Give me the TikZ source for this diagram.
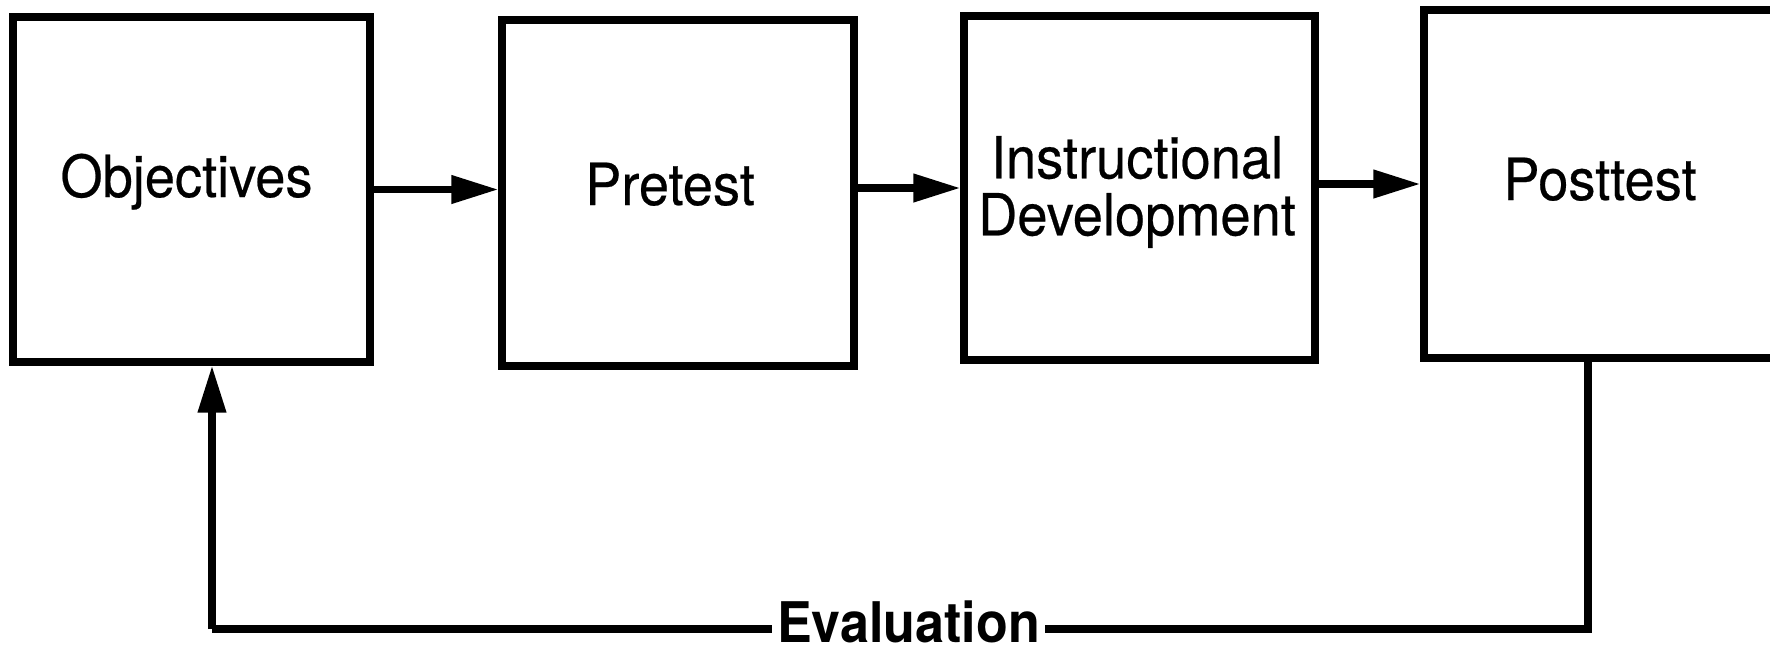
\documentclass[tikz,border=0pt]{standalone}
\usepackage{fontspec}
\setmainfont{TeX Gyre Heros}[FakeStretch=0.93]
\newfontfamily\stagefont{TeX Gyre Heros}[FakeStretch=0.935, FakeBold=0.4]
\usetikzlibrary{arrows.meta}

\tikzset{
  stagebox/.style={draw=black, line width=7.2pt, fill=none, inner sep=0pt},
  stagelabel/.style={inner sep=0pt, font=\stagefont\fontsize{58}{57}\selectfont},
  flow/.style={line width=7.2pt, -{Triangle[length=47pt,width=27pt]}},
  loopline/.style={line width=7.2pt},
}

\begin{document}
\begin{tikzpicture}[x=1pt, y=-1pt]
  \useasboundingbox (0,0) rectangle (1770,649);
  \clip (0,0) rectangle (1770,649);

  % stage boxes
  \node[stagebox, minimum width=357pt, minimum height=345pt] (obj)  at (191.5,189.5) {};
  \node[stagebox, minimum width=352pt, minimum height=346pt] (pre)  at (678,193) {};
  \node[stagebox, minimum width=351pt, minimum height=344pt] (inst) at (1139.5,188) {};
  \node[stagebox, minimum width=352pt, minimum height=348pt] (post) at (1600,184) {};

  % stage labels
  \node[stagelabel, anchor=base] (objtxt)  at (186.5,197) {Objectives};
  \node[stagelabel, anchor=base] (pretxt)  at (670,205) {Pretest};
  \node[stagelabel, align=center] (insttxt) at (1137,192) {Instructional\\Development};
  \node[stagelabel, anchor=base] (posttxt) at (1600,200) {Posttest};

  % forward flow
  \draw[flow] (obj.east) -- (obj.east -| pre.west);
  \draw[flow] (inst.west -| pre.east) -- (inst.west);
  \draw[flow] (post.west -| inst.east) -- (post.west);

  % evaluation feedback loop
  \coordinate (loopR) at (1588,629);
  \coordinate (loopL) at (212,629);
  \draw[loopline] (loopR |- post.south) -- (loopR) -- (loopL);
  \draw[flow] (loopL) -- (loopL |- obj.south);
  \node[fill=white, inner xsep=5pt, inner ysep=0pt, anchor=base,
        font=\fontsize{56}{56}\selectfont\bfseries] (evaltxt) at (908.5,642) {Evaluation};
\end{tikzpicture}
\end{document}
